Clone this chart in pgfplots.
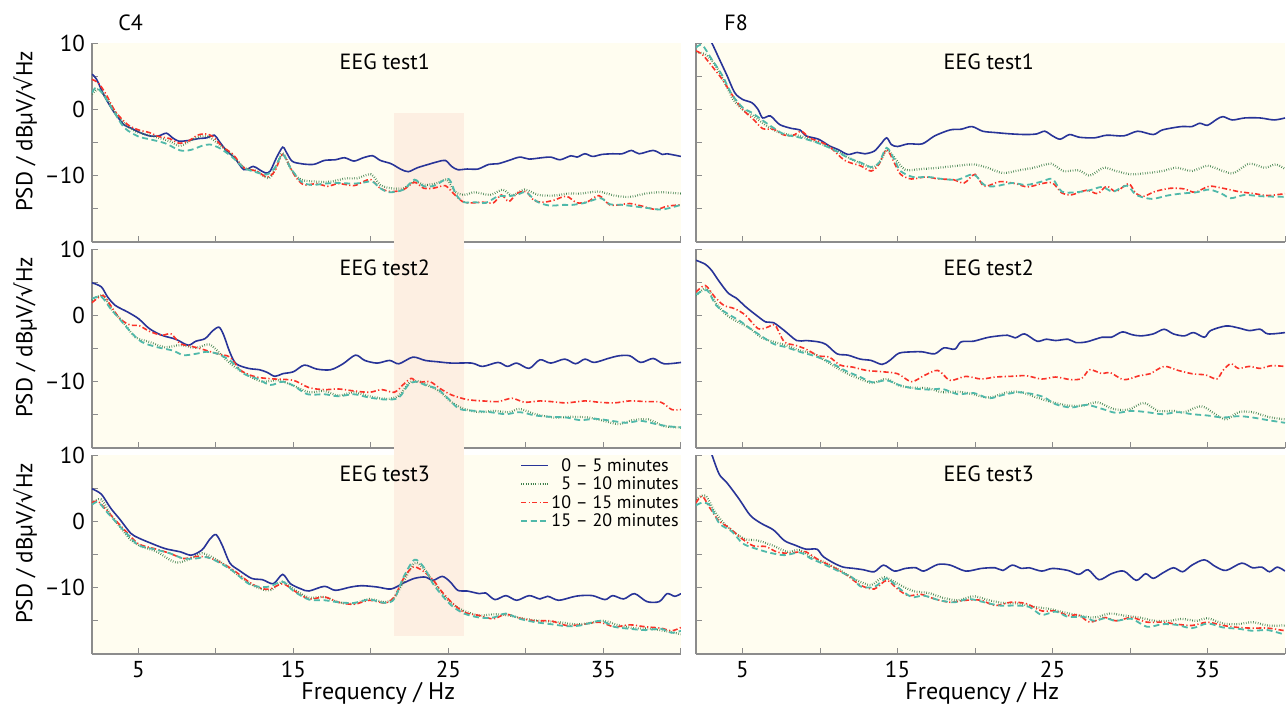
\documentclass[border=0pt]{standalone}
\usepackage{fontspec}
\setmainfont{PT Sans}
\newfontfamily\symfont{DejaVu Sans}
\usepackage{pgfplots}
\pgfplotsset{compat=1.18}

\definecolor{bgy}{RGB}{255,253,240}
\definecolor{bandc}{RGB}{253,239,226}
\definecolor{cblue}{RGB}{40,52,152}
\definecolor{cgreen}{RGB}{64,128,76}
\definecolor{cred}{RGB}{250,50,40}
\definecolor{cteal}{RGB}{80,185,170}
\definecolor{axgray}{RGB}{140,140,140}

\newcommand{\fsz}{\fontsize{11}{13}\selectfont}
\newcommand{\tsz}{\fontsize{11.5}{13}\selectfont}

\pgfplotsset{
  psd/.style={scale only axis, width=294.5pt, height=99.5pt,
    xmin=2, xmax=40, ymin=-20, ymax=10,
    axis x line*=bottom, axis y line*=left,
    axis line style={-, axgray, line width=0.6pt},
    xtick={5,10,...,40}, ytick={-20,-15,...,10},
    xticklabels={}, yticklabels={},
    tick style={axgray, line width=0.5pt}, major tick length=3pt, tick align=inside,
    tick label style={font=\tsz}, ylabel style={font=\tsz},
    xlabel style={font=\fontsize{12}{13}\selectfont, at={(axis description cs:0.486,0)}, anchor=center, yshift=-19.5pt},
    axis background/.style={fill=bgy},
    ylabel style={at={(axis description cs:-0.113,0.555)}, anchor=center},
    legend image code/.code={\draw[mark repeat=2,mark phase=2] plot coordinates {(0cm,0cm) (0.24cm,0cm) (0.48cm,0cm)};},
  },
  leftcol/.style={yticklabels={,,–10,,0,,10}, ylabel={PSD / dBµV/{\symfont √}Hz}},
  botrow/.style={xticklabels={5,,15,,25,,35,}, xlabel={Frequency / Hz}},
  s1/.style={cblue, line width=0.8pt, smooth, tension=0.5, mark=none},
  s2/.style={cgreen, line width=1.1pt, dash pattern=on 0.3pt off 0.9pt, smooth, tension=0.5, mark=none},
  s3/.style={cred, line width=0.8pt, dash pattern=on 2.6pt off 1.2pt on 0.6pt off 1.2pt, smooth, tension=0.5, mark=none},
  s4/.style={cteal, line width=0.9pt, dash pattern=on 3pt off 1.8pt, smooth, tension=0.5, mark=none},
}

\begin{document}
\begin{tikzpicture}
\useasboundingbox (0,0) rectangle (643.5pt,-353.5pt);

% ---------- C4 test1
\begin{axis}[psd, leftcol, name=a11, at={(46pt,-21.5pt)}, anchor=north west]
\fill[bandc] (21.5,-0.5) rectangle (26,-20);
\addplot[s1] coordinates {(2.0,5.3)(2.3,4.5)(2.8,2.0)(3.3,0)(3.7,-1.3)(4.1,-2.4)(4.5,-2.8)(5.0,-3.4)(5.7,-4.0)(6.3,-4.0)(6.8,-3.6)(7.2,-4.3)(7.6,-4.8)(8.2,-4.7)(8.9,-4.4)(9.4,-4.3)(9.9,-3.9)(10.2,-4.8)(10.7,-6.3)(11.2,-7.3)(11.8,-9.1)(12.4,-8.6)(12.8,-9.1)(13.2,-9.6)(13.5,-9.3)(13.9,-7.3)(14.3,-5.7)(14.5,-6.3)(14.9,-7.8)(15.5,-8.2)(16.3,-8.3)(17.0,-7.7)(17.7,-7.6)(18.3,-7.3)(18.9,-7.8)(19.5,-7.3)(20.1,-7.0)(20.6,-7.7)(21.3,-8.2)(21.9,-9.0)(22.4,-9.4)(23.0,-8.8)(23.7,-8.3)(24.3,-7.9)(24.8,-7.7)(25.2,-8.6)(25.6,-9.1)(26.2,-9.0)(26.9,-9.0)(27.6,-8.3)(28.2,-8.2)(28.9,-7.7)(29.6,-7.2)(30.2,-7.5)(31.0,-7.3)(31.6,-7.2)(32.2,-7.6)(32.9,-7.0)(33.3,-7.2)(33.8,-6.7)(34.3,-7.1)(34.9,-6.8)(35.6,-6.7)(36.2,-6.7)(36.8,-6.2)(37.3,-6.7)(38.2,-6.2)(38.8,-6.8)(39.1,-6.7)(40,-7.1)};
\addplot[s2] coordinates {(2.0,2.3)(2.4,3.0)(2.9,1.8)(3.5,-0.5)(4.3,-2.6)(5.0,-3.5)(6.0,-4.1)(7.0,-4.8)(7.7,-5.5)(8.7,-4.3)(9.4,-4.0)(10.1,-5.1)(11.0,-6.8)(11.8,-8.8)(12.6,-9.3)(13.4,-10.4)(13.9,-8.6)(14.3,-6.6)(14.9,-9.3)(15.5,-10.6)(16.5,-10.9)(17.4,-10.9)(18.4,-10.4)(19.1,-10.4)(20.0,-9.8)(20.6,-11.4)(21.3,-11.9)(22.1,-11.9)(22.8,-10.9)(23.5,-11.4)(24.3,-11.1)(24.9,-10.6)(25.4,-12.4)(26.0,-12.9)(26.7,-12.5)(27.7,-12.9)(28.5,-12.1)(29.1,-13.0)(29.9,-12.1)(30.8,-12.9)(31.8,-13.0)(32.7,-12.7)(33.5,-12.7)(34.7,-12.4)(35.7,-13.0)(36.7,-13.2)(37.7,-12.7)(38.7,-12.5)(40,-12.7)};
\addplot[s3] coordinates {(2.0,4.5)(2.4,4.0)(2.9,2.3)(3.5,-0.3)(4.3,-2.3)(5.0,-3.1)(5.7,-3.5)(6.3,-4.1)(7.0,-4.4)(7.6,-5.1)(8.2,-4.8)(8.8,-3.9)(9.3,-3.7)(9.8,-4.1)(10.4,-5.6)(11.1,-6.8)(11.8,-8.8)(12.6,-9.3)(13.3,-10.2)(13.8,-9.3)(14.3,-6.8)(14.8,-8.8)(15.2,-10.4)(15.7,-11.4)(16.5,-11.2)(17.2,-11.6)(17.9,-11.2)(18.9,-11.5)(19.5,-10.9)(20.0,-10.6)(20.6,-11.9)(21.3,-12.4)(22.1,-12.1)(22.8,-11.0)(23.4,-11.9)(24.0,-11.9)(24.8,-11.5)(25.2,-12.4)(25.9,-13.9)(26.5,-14.1)(27.2,-14.0)(27.9,-14.1)(28.4,-12.9)(28.9,-13.9)(29.4,-12.7)(30.0,-12.4)(30.5,-13.7)(31.1,-14.0)(31.8,-13.7)(32.6,-13.1)(33.3,-14.1)(34.0,-13.9)(34.7,-13.0)(35.4,-14.4)(36.0,-14.4)(36.7,-14.2)(37.5,-14.6)(38.4,-15.1)(39.1,-14.6)(40,-14.4)};
\addplot[s4] coordinates {(2.0,2.5)(2.3,3.3)(2.8,2.0)(3.4,-0.3)(4.1,-2.8)(5.0,-4.1)(5.7,-4.5)(6.7,-5.1)(7.7,-6.2)(8.4,-6.1)(9.1,-5.5)(9.6,-5.3)(10.2,-5.8)(11.0,-7.1)(11.8,-8.8)(12.6,-9.5)(13.3,-9.8)(13.8,-8.8)(14.3,-6.8)(14.8,-8.8)(15.5,-10.9)(16.2,-11.4)(17.0,-11.2)(17.9,-11.1)(18.9,-11.2)(19.6,-11.0)(20.1,-10.9)(20.6,-11.9)(21.2,-12.5)(22.1,-12.1)(22.8,-10.6)(23.4,-11.6)(24.1,-11.5)(25.0,-10.5)(25.5,-12.9)(26.0,-14.0)(26.7,-14.0)(27.4,-14.1)(28.2,-13.1)(28.8,-13.1)(29.4,-12.9)(30.0,-12.5)(30.7,-13.9)(31.5,-14.5)(32.4,-14.4)(33.0,-14.4)(33.8,-14.1)(34.8,-13.4)(35.4,-14.3)(36.2,-14.4)(36.9,-14.6)(37.9,-14.9)(38.8,-15.1)(40,-14.4)};
\node[anchor=north, inner sep=0pt, font=\fsz, yshift=-5pt] at (rel axis cs:0.497,1) {EEG test1};
\end{axis}
\node[anchor=base west, inner sep=0pt, font=\fsz] at ([xshift=13pt,yshift=6.5pt]a11.north west) {C4};

% ---------- C4 test2
\begin{axis}[psd, leftcol, name=a21, at={(46pt,-124.5pt)}, anchor=north west, clip=false]
\fill[bandc] (21.5,11.05) rectangle (26,-21.05);
\addplot[s1] coordinates {(2.0,4.9)(2.6,4.3)(3.0,2.8)(3.5,1.5)(4.3,0.5)(5.0,-0.5)(5.7,-2.0)(6.5,-3.0)(7.4,-3.6)(8.2,-4.5)(8.7,-3.9)(9.3,-3.5)(9.8,-2.3)(10.2,-1.8)(10.5,-3.0)(10.9,-5.6)(11.3,-7.3)(12.1,-8.0)(12.8,-8.2)(13.3,-8.6)(13.8,-9.2)(14.3,-8.8)(15.0,-8.5)(15.7,-7.5)(16.5,-8.1)(17.4,-8.2)(18.2,-7.3)(19.0,-6.0)(19.6,-6.8)(20.4,-7.2)(21.2,-6.8)(21.8,-7.3)(22.7,-6.3)(23.5,-6.8)(24.3,-7.0)(25.2,-7.2)(26.5,-7.2)(27.2,-7.7)(28.2,-7.1)(28.8,-7.7)(29.4,-7.2)(30.2,-8.0)(30.9,-6.7)(31.6,-7.2)(32.5,-6.6)(33.2,-7.3)(33.8,-6.6)(34.4,-7.1)(35.3,-6.5)(36.0,-6.1)(36.7,-6.1)(37.4,-7.1)(38.2,-6.5)(38.9,-7.3)(40,-7.1)};
\addplot[s2] coordinates {(2.0,2.3)(2.7,3.0)(3.3,0.8)(4.0,-1.0)(4.8,-3.3)(5.7,-4.0)(6.7,-4.8)(7.7,-4.5)(8.7,-4.9)(9.6,-4.4)(10.4,-6.1)(11.1,-7.6)(12.1,-9.1)(13.0,-10.0)(14.0,-9.8)(15.0,-10.6)(16.0,-11.6)(17.0,-11.4)(17.9,-12.1)(18.9,-11.6)(19.9,-12.2)(21.0,-12.6)(21.8,-12.1)(22.5,-10.1)(23.2,-10.0)(23.8,-10.7)(24.5,-11.6)(25.2,-13.1)(26.0,-14.1)(27.0,-14.6)(27.9,-14.4)(28.9,-14.6)(29.6,-14.1)(30.6,-14.9)(31.8,-15.4)(32.8,-15.3)(34.0,-15.4)(35.0,-15.9)(36.0,-16.4)(36.9,-15.8)(37.9,-15.7)(38.9,-16.7)(40,-16.9)};
\addplot[s3] coordinates {(2.0,1.9)(2.7,3.0)(3.2,1.5)(3.8,-0.5)(4.5,-1.5)(5.0,-1.5)(5.7,-2.4)(6.5,-3.0)(7.1,-2.8)(7.7,-4.3)(8.3,-4.6)(9.1,-5.1)(10.1,-5.8)(10.9,-6.3)(11.6,-8.3)(12.6,-9.3)(13.8,-9.6)(15.0,-9.8)(16.0,-10.9)(17.0,-11.2)(17.9,-11.1)(18.9,-11.4)(19.9,-11.6)(20.7,-11.2)(21.5,-11.6)(22.1,-10.4)(22.6,-9.5)(23.0,-10.1)(23.8,-10.0)(24.5,-11.1)(25.2,-12.0)(26.2,-12.7)(27.2,-12.9)(28.2,-13.0)(29.1,-12.5)(29.9,-13.1)(30.9,-12.9)(31.6,-13.0)(32.6,-13.2)(33.8,-12.9)(34.7,-13.1)(35.7,-13.2)(36.7,-12.9)(37.7,-13.0)(38.7,-13.1)(39.4,-14.2)(40,-14.2)};
\addplot[s4] coordinates {(2.0,2.5)(2.6,2.8)(3.2,1.0)(3.8,-0.6)(4.5,-2.5)(5.2,-4.0)(6.2,-4.8)(7.2,-5.3)(7.9,-6.0)(8.7,-5.8)(9.4,-5.5)(10.1,-5.8)(10.9,-6.8)(11.8,-8.8)(12.7,-9.6)(13.5,-10.5)(14.3,-10.0)(15.0,-10.6)(15.9,-11.9)(17.0,-11.9)(17.9,-12.2)(18.9,-11.9)(19.9,-12.4)(21.0,-12.7)(21.8,-12.4)(22.4,-10.5)(22.9,-10.0)(23.6,-10.6)(24.3,-11.1)(25.0,-12.6)(25.7,-14.1)(26.7,-14.4)(27.7,-14.6)(28.7,-14.9)(29.6,-14.6)(30.6,-15.1)(31.6,-15.3)(32.6,-15.4)(33.5,-15.8)(34.5,-15.6)(35.5,-15.9)(36.5,-16.2)(37.4,-15.9)(38.4,-16.4)(39.1,-16.7)(40,-16.9)};
\node[anchor=north, inner sep=0pt, font=\fsz, yshift=-5pt] at (rel axis cs:0.497,1) {EEG test2};
\end{axis}

% ---------- C4 test3
\begin{axis}[psd, leftcol, botrow, name=a31, at={(46pt,-227.5pt)}, anchor=north west,
  legend cell align=left,
  legend style={draw=none, fill=none, at={(1,1)}, anchor=north east, yshift=-0.5pt,
    font=\fontsize{9}{10}\selectfont, row sep=0pt, inner sep=0pt,
    nodes={inner sep=1pt, text height=6.5pt, text depth=0.7pt}}]
\fill[bandc] (21.5,10) rectangle (26,-17.3);
\addplot[s1] coordinates {(2.0,4.9)(2.6,4.1)(3.2,2.0)(3.8,0.3)(4.5,-1.8)(5.0,-2.5)(5.7,-3.2)(6.7,-4.1)(7.7,-4.6)(8.4,-5.1)(9.1,-4.3)(9.6,-2.7)(10.0,-2.0)(10.4,-3.6)(10.9,-6.3)(11.5,-7.4)(12.3,-8.6)(13.0,-8.8)(13.7,-9.4)(14.3,-8.0)(14.8,-9.4)(15.5,-10.2)(16.0,-10.5)(17.0,-9.8)(17.7,-10.4)(18.7,-9.9)(19.4,-9.7)(20.4,-9.9)(21.3,-10.2)(22.1,-9.3)(22.8,-8.6)(23.5,-8.4)(24.0,-8.9)(24.6,-8.3)(25.1,-9.1)(25.6,-10.4)(26.2,-10.5)(27.0,-10.9)(27.4,-10.8)(28.0,-11.8)(28.7,-11.2)(29.4,-11.9)(30.2,-11.2)(30.9,-11.7)(31.4,-11.3)(32.1,-11.9)(33.0,-11.4)(33.5,-11.2)(34.3,-11.2)(35.1,-11.8)(35.6,-11.2)(36.3,-11.7)(37.0,-10.9)(37.8,-12.1)(38.6,-12.1)(39.1,-10.9)(39.6,-11.3)(40,-10.9)};
\addlegendentry{\phantom{1}0 – 5 minutes}
\addplot[s2] coordinates {(2.0,2.8)(2.6,3.3)(3.2,1.0)(3.8,-0.8)(4.5,-2.8)(5.2,-3.8)(6.2,-4.6)(7.4,-6.2)(8.4,-5.6)(9.1,-4.8)(9.9,-5.6)(10.6,-6.6)(11.6,-8.4)(12.6,-9.9)(13.5,-10.4)(14.3,-9.1)(15.0,-10.2)(16.0,-11.5)(17.0,-11.4)(17.9,-12.2)(18.9,-12.4)(19.9,-11.7)(20.9,-12.2)(21.5,-11.5)(22.1,-9.1)(22.8,-6.3)(23.4,-7.1)(24.0,-9.1)(24.6,-10.9)(25.2,-12.4)(26.0,-13.5)(27.0,-14.2)(27.9,-14.0)(28.9,-14.2)(29.9,-14.7)(30.9,-15.0)(32.1,-15.2)(33.1,-15.5)(34.0,-15.4)(35.0,-15.0)(36.0,-15.7)(37.0,-16.1)(38.0,-16.2)(38.9,-16.5)(40,-17.0)};
\addlegendentry{\phantom{1}5 – 10 minutes}
\addplot[s3] coordinates {(2.0,2.8)(2.4,3.0)(3.0,1.5)(3.7,-0.3)(4.3,-1.8)(5.0,-3.4)(6.0,-4.1)(7.0,-4.8)(7.9,-5.6)(8.7,-5.3)(9.4,-5.4)(10.2,-6.1)(11.1,-7.3)(12.1,-9.1)(12.9,-10.1)(13.5,-10.2)(14.3,-9.4)(15.0,-10.4)(16.0,-11.7)(17.0,-11.4)(17.9,-12.2)(18.9,-12.5)(19.9,-11.9)(20.9,-12.3)(21.5,-11.4)(22.1,-8.6)(22.7,-6.9)(23.3,-7.4)(24.0,-8.8)(24.5,-10.4)(25.2,-12.2)(26.0,-13.7)(27.0,-14.2)(27.9,-14.7)(28.7,-14.0)(29.6,-14.6)(30.6,-15.0)(31.6,-15.0)(32.6,-15.7)(33.5,-15.6)(34.7,-15.2)(35.7,-15.9)(36.7,-15.6)(37.7,-15.9)(38.7,-16.1)(39.4,-16.5)(40,-16.0)};
\addlegendentry{10 – 15 minutes}
\addplot[s4] coordinates {(2.0,2.5)(2.4,2.9)(3.0,1.3)(3.7,-0.5)(4.3,-2.0)(5.0,-3.6)(6.0,-4.2)(7.0,-4.8)(7.9,-5.6)(8.7,-5.6)(9.4,-5.4)(10.2,-6.2)(11.1,-7.5)(12.1,-9.4)(12.9,-9.9)(13.5,-9.8)(14.3,-9.1)(15.0,-10.5)(16.0,-11.8)(17.0,-11.9)(17.9,-12.2)(18.9,-12.3)(19.9,-11.8)(20.9,-12.3)(21.5,-11.7)(22.1,-8.4)(22.8,-5.8)(23.4,-6.9)(24.0,-9.4)(24.6,-11.2)(25.2,-12.7)(26.0,-13.9)(27.0,-14.5)(27.9,-14.5)(28.7,-13.9)(29.6,-14.7)(30.6,-15.2)(31.6,-15.5)(32.6,-15.8)(33.5,-15.7)(34.8,-15.0)(35.7,-15.9)(36.7,-16.2)(37.7,-16.4)(38.7,-16.2)(39.4,-16.8)(40,-16.5)};
\addlegendentry{15 – 20 minutes}
\node[anchor=north, inner sep=0pt, font=\fsz, yshift=-5pt] at (rel axis cs:0.497,1) {EEG test3};
\end{axis}

% ---------- F8 test1
\begin{axis}[psd, name=a12, at={(348pt,-21.5pt)}, anchor=north west]
\addplot[s1] coordinates {(2.0,13.5)(2.6,11.6)(3.0,10.1)(3.5,7.6)(4.0,5.1)(4.5,2.5)(5.0,1.5)(5.6,1.0)(6.0,0)(6.3,-1.3)(6.8,-1.0)(7.4,-2.3)(8.2,-2.9)(8.7,-3.1)(9.1,-4.0)(9.9,-4.5)(10.6,-5.5)(11.2,-6.1)(11.8,-6.8)(12.4,-6.5)(12.9,-6.7)(13.5,-6.3)(13.9,-5.3)(14.3,-4.3)(14.6,-5.3)(15.0,-5.6)(15.7,-5.2)(16.6,-5.2)(17.4,-4.0)(18.4,-3.1)(19.1,-3.0)(19.8,-2.6)(20.5,-3.3)(21.3,-3.5)(22.3,-3.7)(23.3,-3.8)(24.0,-3.7)(24.5,-3.3)(25.0,-4.0)(25.5,-4.5)(26.1,-3.8)(26.7,-4.2)(27.7,-4.3)(28.5,-3.9)(29.6,-4.0)(30.5,-3.3)(31.5,-3.8)(32.1,-3.1)(33.3,-2.6)(34.0,-2.6)(34.5,-2.1)(35.0,-2.4)(35.6,-1.5)(36.0,-1.1)(36.6,-1.6)(37.4,-1.3)(38.4,-1.3)(39.3,-1.6)(40,-1.3)};
\addplot[s2] coordinates {(2.0,8.6)(2.6,8.3)(3.2,6.8)(3.8,4.3)(4.4,1.5)(5.0,0)(5.7,-1.0)(6.5,-2.4)(7.2,-3.3)(7.9,-3.8)(8.7,-4.0)(9.4,-4.6)(10.1,-5.2)(11.1,-6.3)(12.1,-7.6)(12.8,-8.3)(13.4,-8.8)(13.9,-7.8)(14.3,-6.1)(14.8,-7.3)(15.5,-9.1)(16.5,-9.0)(17.7,-8.8)(18.9,-8.5)(19.9,-8.3)(20.8,-8.8)(21.8,-9.6)(22.8,-9.2)(23.8,-8.8)(24.9,-8.2)(25.7,-9.3)(26.7,-9.2)(27.4,-10.0)(28.3,-8.8)(29.1,-9.3)(30.1,-9.8)(31.1,-9.6)(32.1,-9.3)(33.0,-8.8)(34.0,-9.3)(35.0,-8.5)(36.0,-9.3)(36.7,-9.6)(37.7,-8.2)(38.7,-8.8)(39.4,-8.3)(40,-9.0)};
\addplot[s3] coordinates {(2.0,8.8)(2.4,8.3)(3.0,6.6)(3.7,4.5)(4.3,2.3)(5.0,0)(5.7,-1.5)(6.3,-2.9)(7.0,-3.0)(7.6,-3.8)(8.2,-4.0)(8.8,-3.3)(9.3,-4.3)(9.9,-4.8)(10.6,-5.6)(11.6,-7.7)(12.6,-8.5)(13.3,-9.3)(13.8,-8.3)(14.3,-6.1)(14.8,-8.1)(15.2,-9.8)(15.9,-10.5)(16.8,-10.2)(17.7,-10.5)(18.6,-10.6)(19.3,-11.1)(20.0,-9.8)(20.6,-11.6)(21.6,-10.9)(22.6,-11.2)(23.4,-11.7)(24.3,-11.2)(25.0,-11.1)(25.6,-12.6)(26.2,-12.9)(27.2,-12.2)(27.9,-12.7)(28.5,-11.6)(29.1,-12.4)(29.9,-11.2)(30.4,-12.7)(30.9,-13.1)(31.6,-12.4)(32.6,-11.9)(33.5,-12.0)(34.2,-12.5)(35.1,-11.6)(36.0,-11.9)(37.0,-12.4)(38.0,-12.7)(38.9,-13.0)(40,-12.7)};
\addplot[s4] coordinates {(2.0,9.3)(2.4,9.7)(3.0,7.6)(3.7,5.1)(4.3,2.3)(5.0,0.3)(5.6,-0.5)(6.2,-1.5)(7.0,-2.8)(7.7,-3.8)(8.4,-4.1)(9.1,-4.5)(9.9,-5.1)(10.9,-6.1)(11.8,-7.3)(12.6,-8.0)(13.3,-8.7)(13.8,-8.1)(14.3,-5.8)(14.8,-7.6)(15.2,-9.3)(16.0,-10.2)(17.0,-10.2)(17.9,-10.5)(18.9,-10.6)(19.9,-9.8)(20.6,-11.4)(21.3,-11.6)(22.4,-11.1)(23.3,-11.4)(24.3,-10.9)(25.0,-10.5)(25.6,-12.4)(26.5,-12.5)(27.4,-12.2)(28.2,-11.7)(28.9,-12.4)(29.8,-11.5)(30.4,-12.9)(31.4,-13.5)(32.4,-13.0)(33.3,-12.7)(34.3,-12.5)(35.1,-12.1)(35.9,-12.7)(36.5,-13.4)(37.4,-12.9)(38.4,-13.1)(40,-13.2)};
\node[anchor=north, inner sep=0pt, font=\fsz, yshift=-5pt] at (rel axis cs:0.497,1) {EEG test1};
\end{axis}
\node[anchor=base west, inner sep=0pt, font=\fsz] at ([xshift=14pt,yshift=6.5pt]a12.north west) {F8};

% ---------- F8 test2
\begin{axis}[psd, name=a22, at={(348pt,-124.5pt)}, anchor=north west]
\addplot[s1] coordinates {(2.0,8.3)(2.6,7.7)(3.0,6.8)(3.5,5.1)(4.1,3.3)(4.6,2.6)(5.2,1.3)(5.9,0)(6.5,-1.0)(7.0,-1.1)(7.7,-2.3)(8.5,-3.8)(9.1,-3.8)(9.9,-4.0)(10.4,-4.4)(11.1,-5.8)(11.8,-6.0)(12.6,-6.6)(13.3,-6.8)(14.0,-7.4)(14.5,-6.8)(15.1,-5.7)(16.0,-5.5)(16.6,-5.5)(17.4,-5.8)(18.0,-4.9)(18.7,-5.1)(19.1,-4.0)(19.9,-3.9)(20.9,-3.3)(22.1,-3.0)(22.6,-3.4)(23.2,-2.8)(24.0,-3.9)(24.6,-3.6)(25.2,-3.8)(26.0,-3.6)(26.5,-4.1)(27.2,-4.0)(28.2,-3.3)(28.8,-3.3)(29.5,-2.5)(30.1,-2.9)(30.7,-3.1)(31.5,-2.8)(32.2,-2.1)(32.8,-2.8)(33.5,-3.1)(34.1,-2.6)(34.8,-3.3)(35.2,-2.3)(36.2,-1.6)(37.0,-1.9)(37.7,-2.3)(38.4,-2.1)(38.9,-2.8)(40,-2.6)};
\addplot[s2] coordinates {(2.0,3.0)(2.7,4.1)(3.3,1.8)(4.0,0)(4.8,-1.1)(5.5,-2.0)(6.2,-3.3)(7.0,-4.0)(7.8,-4.5)(8.7,-5.3)(9.6,-5.8)(10.6,-7.2)(11.6,-8.6)(12.6,-9.6)(13.4,-10.2)(14.3,-9.6)(15.1,-10.6)(16.0,-10.9)(17.0,-11.0)(17.9,-11.6)(18.9,-11.5)(19.9,-11.9)(20.9,-12.4)(22.1,-11.6)(23.0,-11.6)(24.0,-12.4)(25.0,-13.1)(26.0,-13.6)(27.0,-13.6)(27.9,-13.1)(28.9,-14.1)(29.9,-14.2)(30.9,-13.2)(31.8,-14.4)(32.8,-14.4)(33.5,-14.6)(34.6,-13.7)(35.5,-14.9)(36.2,-15.7)(37.0,-14.6)(37.9,-14.6)(38.9,-15.3)(40,-15.7)};
\addplot[s3] coordinates {(2.0,3.5)(2.6,4.5)(3.2,2.8)(3.8,1.5)(4.5,1.0)(5.2,0)(6.0,-2.0)(6.6,-1.8)(7.1,-1.5)(7.7,-4.0)(8.4,-4.5)(9.1,-5.1)(9.9,-6.1)(10.6,-6.3)(11.3,-7.5)(12.1,-7.8)(13.0,-8.3)(14.0,-8.5)(15.0,-8.8)(15.9,-10.0)(16.7,-9.1)(17.6,-8.3)(18.4,-9.8)(19.4,-9.2)(20.4,-9.6)(21.3,-9.3)(22.3,-9.2)(23.3,-9.1)(24.3,-9.6)(25.2,-9.3)(26.2,-9.7)(26.9,-9.5)(27.4,-8.2)(28.2,-8.8)(28.7,-8.6)(29.6,-9.7)(30.6,-9.1)(31.3,-8.8)(32.2,-7.7)(33.1,-8.3)(34.0,-8.8)(34.9,-9.0)(35.6,-9.6)(36.0,-8.3)(36.5,-7.3)(37.0,-8.0)(37.7,-7.7)(38.4,-8.0)(39.1,-7.6)(40,-7.7)};
\addplot[s4] coordinates {(2.0,3.1)(2.7,3.8)(3.3,1.5)(4.0,0.3)(4.8,-0.8)(5.5,-2.0)(6.2,-3.1)(7.0,-4.3)(7.8,-4.8)(8.7,-5.5)(9.6,-6.1)(10.6,-7.0)(11.6,-8.3)(12.6,-9.3)(13.4,-10.1)(14.3,-9.8)(15.1,-10.5)(16.0,-11.0)(17.0,-11.2)(17.9,-11.1)(18.9,-11.9)(19.9,-11.7)(20.9,-12.5)(21.8,-12.0)(22.8,-11.6)(23.8,-11.9)(24.5,-12.4)(25.2,-13.4)(26.2,-13.9)(27.2,-13.5)(28.2,-14.1)(29.1,-14.7)(30.1,-14.4)(31.1,-14.6)(32.1,-14.9)(33.1,-14.6)(34.0,-14.9)(35.0,-15.1)(36.0,-15.4)(37.0,-15.2)(37.9,-15.4)(38.9,-15.8)(40,-16.2)};
\node[anchor=north, inner sep=0pt, font=\fsz, yshift=-5pt] at (rel axis cs:0.497,1) {EEG test2};
\end{axis}

% ---------- F8 test3
\begin{axis}[psd, botrow, name=a32, at={(348pt,-227.5pt)}, anchor=north west]
\addplot[s1] coordinates {(2.0,15.5)(2.6,12.9)(3.0,10.2)(3.5,7.1)(4.0,5.8)(4.8,3.3)(5.5,0.9)(6.2,-0.3)(7.0,-1.3)(7.7,-2.9)(8.4,-3.6)(9.1,-4.2)(9.8,-4.2)(10.2,-5.3)(10.9,-6.3)(11.5,-6.9)(12.2,-7.1)(12.8,-7.3)(13.5,-7.6)(14.1,-6.6)(14.8,-7.5)(15.5,-7.1)(16.2,-7.0)(16.7,-7.5)(17.6,-6.5)(18.4,-6.6)(19.4,-7.5)(20.4,-7.1)(21.3,-7.0)(21.8,-7.4)(22.4,-6.6)(23.0,-7.1)(23.5,-7.0)(24.3,-7.5)(25.0,-7.1)(26.0,-7.4)(26.7,-8.0)(27.3,-7.3)(28.0,-8.8)(28.8,-7.9)(29.6,-7.5)(30.4,-8.9)(31.0,-7.9)(31.5,-8.6)(32.1,-7.8)(32.8,-7.0)(33.4,-7.6)(34.0,-6.6)(34.8,-5.8)(35.5,-6.8)(36.2,-7.4)(37.2,-6.3)(37.9,-7.0)(38.5,-6.9)(39.0,-7.6)(39.5,-6.9)(40,-7.5)};
\addplot[s2] coordinates {(2.0,3.3)(2.6,3.9)(3.2,1.5)(3.8,-0.3)(4.5,-1.7)(5.2,-2.7)(6.0,-2.9)(7.0,-3.7)(7.9,-4.6)(8.7,-4.3)(9.4,-5.3)(10.4,-6.3)(11.3,-7.4)(12.3,-8.8)(13.3,-9.6)(14.1,-8.4)(15.0,-9.4)(16.0,-10.5)(17.0,-10.8)(17.9,-11.5)(18.9,-11.9)(19.9,-11.3)(20.9,-11.9)(21.8,-12.3)(22.8,-12.4)(23.8,-12.9)(24.8,-13.2)(25.7,-13.7)(26.7,-14.2)(27.7,-14.5)(28.7,-13.9)(29.6,-14.2)(30.6,-14.5)(31.6,-15.0)(32.6,-15.0)(33.3,-14.7)(34.3,-15.0)(35.0,-14.6)(36.0,-15.4)(37.0,-15.5)(37.9,-15.2)(38.9,-15.7)(40,-15.7)};
\addplot[s3] coordinates {(2.0,2.8)(2.4,3.8)(2.9,2.0)(3.5,0)(4.1,-0.9)(4.9,-2.5)(5.7,-3.7)(6.5,-3.8)(7.2,-4.6)(7.9,-4.8)(8.7,-4.6)(9.1,-4.6)(9.9,-5.8)(10.6,-6.6)(11.6,-7.9)(12.6,-9.6)(13.5,-10.2)(14.3,-8.9)(15.0,-10.2)(15.7,-11.2)(16.5,-11.0)(17.4,-11.7)(18.4,-12.2)(19.4,-11.9)(20.4,-11.9)(21.3,-12.7)(22.3,-12.2)(23.3,-12.4)(24.3,-13.5)(25.2,-13.5)(26.0,-14.2)(26.7,-14.1)(27.4,-15.2)(28.4,-14.5)(29.1,-15.0)(30.1,-14.5)(31.1,-15.2)(32.1,-15.2)(33.0,-15.5)(34.0,-15.7)(35.0,-15.2)(36.0,-15.7)(37.0,-16.0)(37.9,-16.1)(38.9,-16.1)(40,-16.5)};
\addplot[s4] coordinates {(2.0,2.4)(2.4,2.8)(2.9,2.4)(3.5,-0.3)(4.3,-1.5)(5.0,-3.3)(5.7,-4.0)(6.7,-4.7)(7.7,-5.1)(8.7,-4.7)(9.4,-5.6)(10.1,-6.3)(11.1,-7.4)(12.1,-8.5)(12.6,-9.8)(13.5,-9.9)(14.3,-8.6)(15.0,-9.9)(15.9,-11.4)(16.7,-11.2)(17.7,-11.9)(18.7,-12.2)(19.6,-11.7)(20.6,-12.2)(21.6,-12.7)(22.6,-12.7)(23.5,-12.9)(24.3,-14.1)(25.2,-13.6)(26.0,-14.4)(27.0,-14.4)(27.7,-15.0)(28.4,-14.6)(29.1,-15.0)(30.1,-14.7)(31.1,-15.9)(32.1,-15.5)(33.0,-15.6)(34.0,-16.1)(35.0,-15.4)(36.0,-16.0)(37.0,-16.2)(37.9,-16.5)(38.9,-16.4)(40,-17.1)};
\node[anchor=north, inner sep=0pt, font=\fsz, yshift=-5pt] at (rel axis cs:0.497,1) {EEG test3};
\end{axis}
\end{tikzpicture}
\end{document}
